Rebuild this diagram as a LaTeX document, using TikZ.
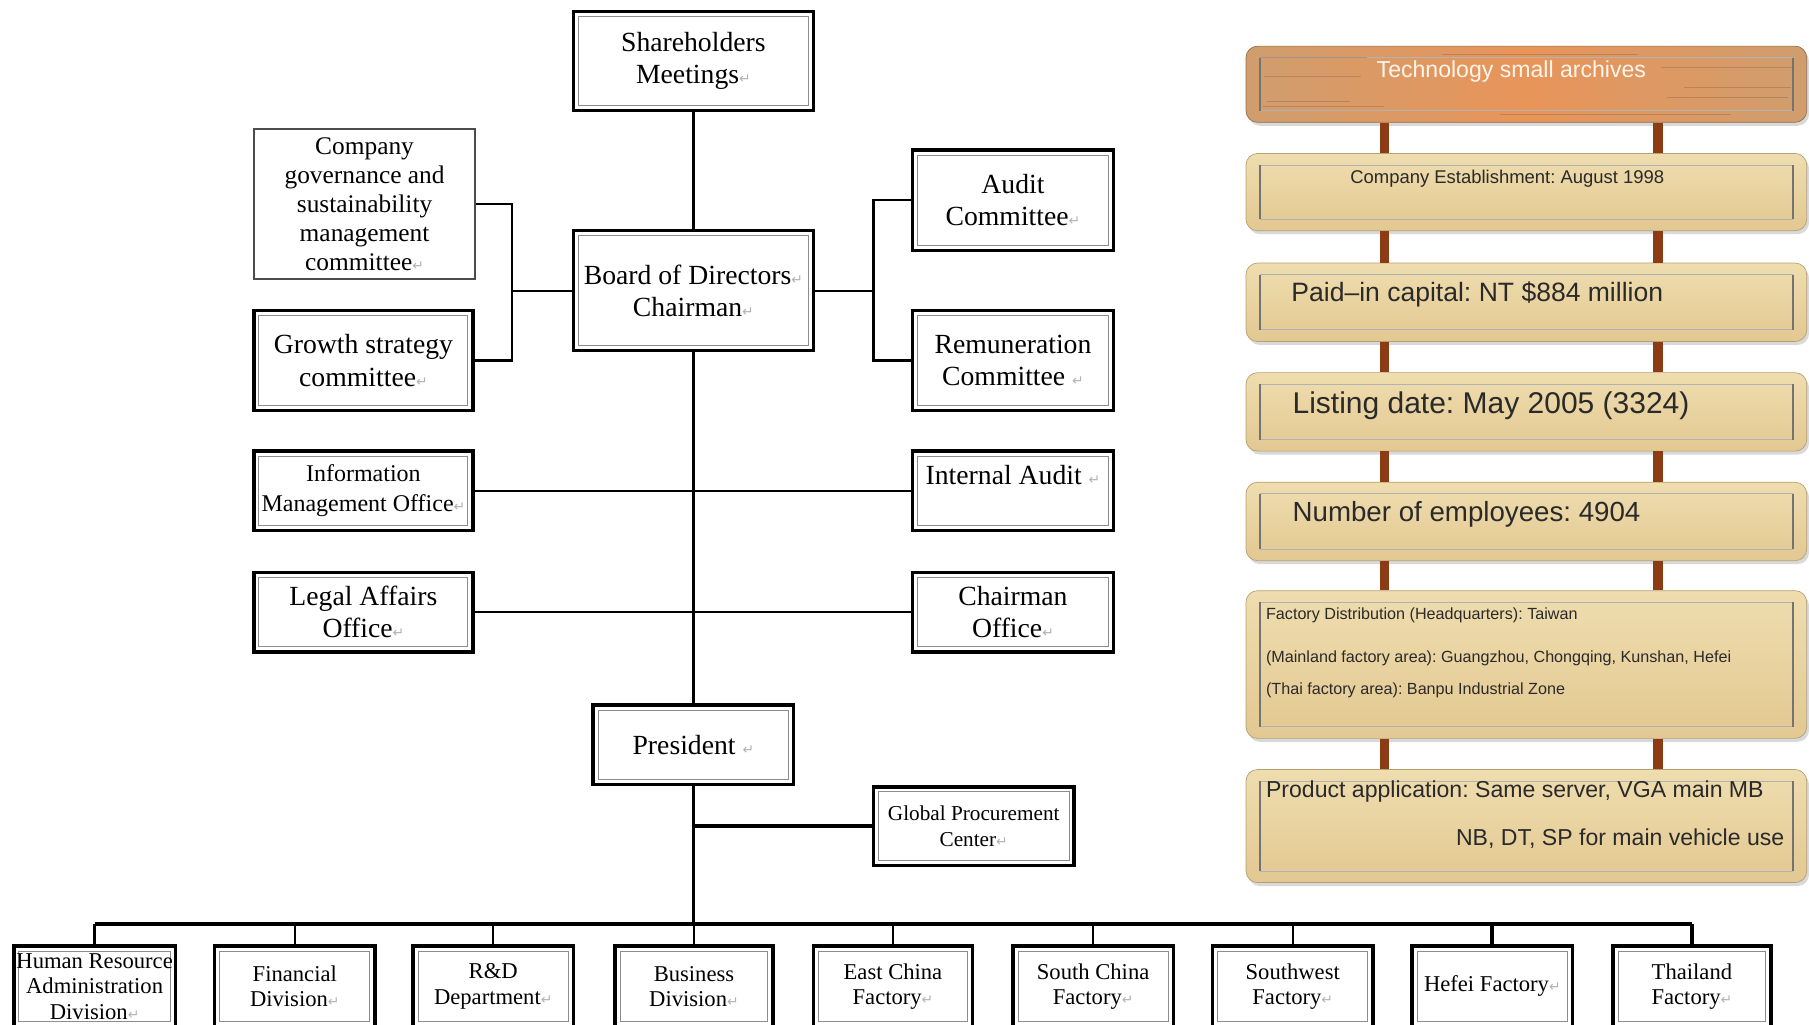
\documentclass[tikz,border=0pt]{standalone}
\usepackage{fontspec}
\setmainfont{Liberation Serif}
\newfontfamily\sansf{Liberation Sans}
\newfontfamily\djv{DejaVu Sans}
\usetikzlibrary{shadows}
\definecolor{tanA}{HTML}{EFDDAF}
\definecolor{tanB}{HTML}{E2C891}
\definecolor{woodA}{HTML}{D09D6E}
\definecolor{woodB}{HTML}{E8955A}
\definecolor{postc}{HTML}{8B3C14}
\definecolor{txtd}{HTML}{2A2A2A}
\newcommand{\rmk}{{\djv\color{black!30}\fontsize{6}{6}\selectfont ↵}}
\newcommand{\fsz}[2]{\fontsize{#1}{#2}\selectfont}
\frenchspacing
\begin{document}
\begin{tikzpicture}[x=0.5pt,y=-0.5pt,
  ob/.style={draw=black, line width=1.5pt, fill=white, align=center, inner sep=1pt,
    font=\fsz{12}{14},
    path picture={\draw[line width=0.4pt,black!45]
      ([shift={(2.2pt,-2.2pt)}]path picture bounding box.north west) rectangle
      ([shift={(-2.2pt,2.2pt)}]path picture bounding box.south east);}},
  lb/.style={draw=black!70, line width=1pt, fill=white, align=center, inner sep=1pt, font=\fsz{11}{12.5}},
  bot/.style={ob, minimum height=35pt, font=\fsz{9.8}{11}},
  con/.style={line width=1pt, black},
  trunk/.style={line width=1.6pt, black},
  bus/.style={line width=2pt, black},
  board/.style={rounded corners=5pt, draw=tanB!80!black, line width=0.3pt,
    top color=tanA, bottom color=tanB, minimum width=243pt,
    drop shadow={shadow xshift=1pt, shadow yshift=-1.5pt, opacity=0.3},
    path picture={
      \draw[sharp corners, line width=0.4pt, black!30]
        ([shift={(6pt,-5pt)}]path picture bounding box.north west) --
        ([shift={(-6pt,-5pt)}]path picture bounding box.north east);
      \draw[sharp corners, line width=0.4pt, black!30]
        ([shift={(6pt,5pt)}]path picture bounding box.south west) --
        ([shift={(-6pt,5pt)}]path picture bounding box.south east);
      \draw[sharp corners, line width=0.6pt, black!55]
        ([shift={(6pt,-5pt)}]path picture bounding box.north west) --
        ([shift={(6pt,5pt)}]path picture bounding box.south west);
      \draw[sharp corners, line width=0.6pt, black!55]
        ([shift={(-6pt,-5pt)}]path picture bounding box.north east) --
        ([shift={(-6pt,5pt)}]path picture bounding box.south east);}},
  woodb/.style={board, left color=woodA, right color=woodA, middle color=woodB, draw=woodA!70!black},
  post/.style={line width=4pt, postc},
  ptxt/.style={inner sep=0pt, text=txtd, font=\sansf},
]
\useasboundingbox (0,0) rectangle (1568,887.6);
\clip (0,0) rectangle (1568,887.6);

% ---------- org chart boxes ----------
\node[ob, minimum width=104pt, minimum height=43pt] (sh) at (601,53) {Shareholders\\Meetings\rmk};
\node[lb, minimum width=96pt, minimum height=65pt] (gov) at (316,177) {Company\\governance and\\sustainability\\management\\committee\rmk};
\node[ob, minimum width=95pt, minimum height=43.5pt] (grow) at (315,312.5) {Growth strategy\\committee\rmk};
\node[ob, minimum width=104pt, minimum height=52pt] (bod) at (601,252) {Board of Directors\rmk\\Chairman\rmk};
\node[ob, minimum width=87pt, minimum height=43.5pt] (aud) at (878,173.5) {Audit\\Committee\rmk};
\node[ob, minimum width=87pt, minimum height=43.5pt] (rem) at (878,312.5) {Remuneration\\Committee \rmk};
\node[ob, minimum width=95pt, minimum height=34.5pt, font=\fsz{10.4}{13}] (info) at (315,425.5) {Information\\Management Office\rmk};
\node[ob, minimum width=87pt, minimum height=34.5pt] (int) at (878,425.5) {Internal Audit \rmk\\\mbox{}};
\node[ob, minimum width=95pt, minimum height=34.5pt] (legal) at (315,530.5) {Legal Affairs\\Office\rmk};
\node[ob, minimum width=87pt, minimum height=34.5pt] (chofc) at (878,530.5) {Chairman\\Office\rmk};
\node[ob, minimum width=87pt, minimum height=34.5pt] (pres) at (601,645.5) {President \rmk};
\node[ob, minimum width=87pt, minimum height=34pt, font=\fsz{9.2}{11}] (gpc) at (844,716) {Global Procurement\\Center\rmk};

\node[bot, minimum width=70pt] (hr) at (82,855) {Human Resource\\Administration\\Division\rmk};
\node[bot, minimum width=69.5pt] (fin) at (255.5,855) {Financial\\Division\rmk};
\node[bot, minimum width=69.5pt] (rd) at (427.5,855) {R\&D\\Department\rmk};
\node[bot, minimum width=68.5pt] (bus) at (601.5,855) {Business\\Division\rmk};
\node[bot, minimum width=69pt] (east) at (774,855) {East China\\Factory\rmk};
\node[bot, minimum width=69.5pt] (south) at (947.5,855) {South China\\Factory\rmk};
\node[bot, minimum width=69.5pt] (sw) at (1120.5,855) {Southwest\\Factory\rmk};
\node[bot, minimum width=69.5pt] (hefei) at (1293.5,855) {Hefei Factory\rmk};
\node[bot, minimum width=68.5pt] (thai) at (1466.5,855) {Thailand\\Factory\rmk};

% ---------- connectors ----------
\coordinate (lj) at (444,252);
\coordinate (rj) at (757,252);
\coordinate (busc) at (601,801);

\draw[con] (sh.south) -- (bod.north);
\draw[con] (gov.east) -| (lj) |- (grow.east);
\draw[con] (bod.west) -- (lj);
\draw[con] (aud.west) -| (rj) |- (rem.west);
\draw[con] (bod.east) -- (rj);
\draw[trunk] (bod.south) -- (pres.north);
\draw[con, line width=1.2pt] (info.east) -- (int.west);
\draw[con, line width=1.2pt] (legal.east) -- (chofc.west);
\draw[trunk] (pres.south) -- (busc);
\draw[trunk] (gpc.west) -- (gpc.west -| pres.south);
\draw[bus] (hr.north |- busc) -- (thai.north |- busc);
\foreach \n in {hr,fin,rd,bus,east,south,sw}
  \draw[con] (\n.north |- busc) -- (\n.north);
\foreach \n in {hefei,thai}
  \draw[trunk] (\n.north |- busc) -- (\n.north);

% ---------- right panel: sign boards ----------
\coordinate (pl) at (1200,0);
\coordinate (pr) at (1437,0);

\node[woodb, minimum height=33pt] (t) at (1323,73) {};
\node[board, minimum height=33.5pt] (b1) at (1323,166.5) {};
\node[board, minimum height=34pt] (b2) at (1323,262) {};
\node[board, minimum height=34pt] (b3) at (1323,357) {};
\node[board, minimum height=34pt] (b4) at (1323,452) {};
\node[board, minimum height=64pt] (b5) at (1323,576) {};
\node[board, minimum height=49pt] (b6) at (1323,716) {};

% wood grain on title board
\foreach \yy/\xa/\xb in {50/1092/1185,58/1440/1555,66/1096/1180,84/1445/1550,92/1095/1200,99/1300/1500,47/1250/1420,76/1460/1552,88/1098/1170}
  \draw[woodA!60!black, line width=0.3pt, opacity=0.35] (\xa,\yy) -- (\xb,\yy);

\foreach \a/\b in {t/b1,b1/b2,b2/b3,b3/b4,b4/b5,b5/b6} {
  \draw[post] (\a.south -| pl) -- (\b.north -| pl);
  \draw[post] (\a.south -| pr) -- (\b.north -| pr);
}

\node[ptxt, text=white!92!orange, font=\sansf\fsz{10}{12}] (tt) at (1310,62) {Technology small archives};
\node[ptxt, anchor=west, font=\sansf\fsz{8}{10}] (t1) at (1170,155) {Company Establishment: August 1998};
\node[ptxt, anchor=west, font=\sansf\fsz{11.5}{14}] (t2) at (1119,255) {Paid–in capital: NT \$884 million};
\node[ptxt, anchor=west, font=\sansf\fsz{13}{15}] (t3) at (1120,352) {Listing date: May 2005 (3324)};
\node[ptxt, anchor=west, font=\sansf\fsz{12}{14}] (t4) at (1120,446) {Number of employees: 4904};
\node[ptxt, anchor=west, font=\sansf\fsz{7}{9}] (t5a) at (1097,533) {Factory Distribution (Headquarters): Taiwan};
\node[ptxt, anchor=west, font=\sansf\fsz{7}{9}] (t5b) at (1097,571) {(Mainland factory area): Guangzhou, Chongqing, Kunshan, Hefei};
\node[ptxt, anchor=west, font=\sansf\fsz{7}{9}] (t5c) at (1097,598) {(Thai factory area): Banpu Industrial Zone};
\node[ptxt, anchor=west, font=\sansf\fsz{10}{12}] (t6a) at (1097,686) {Product application: Same server, VGA main MB};
\node[ptxt, anchor=east, font=\sansf\fsz{10}{12}] (t6b) at (1547,727) {NB, DT, SP for main vehicle use};
\end{tikzpicture}
\end{document}
